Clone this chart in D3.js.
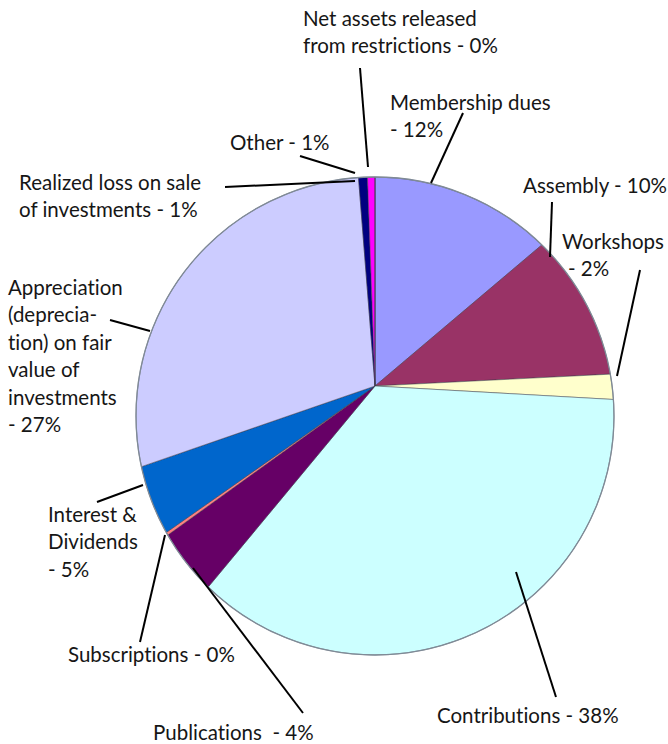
<!DOCTYPE html>
<html>
<head>
<meta charset="utf-8">
<script src="https://cdn.jsdelivr.net/npm/d3@7.8.5/dist/d3.min.js"></script>
<style>
  html, body { margin: 0; padding: 0; background: #fff; }
  svg { display: block; }
  .lbl { font-family: Lato, "Open Sans", sans-serif; font-size: 20.5px; fill: #161616;
         white-space: pre; font-variant-ligatures: none; font-feature-settings: "liga" 0; }
  .leader { stroke: #000; stroke-width: 2px; fill: none; }
</style>
</head>
<body>
<script>
// categories in clockwise order from 12 o'clock
const categories = [
  'Membership dues', 'Assembly', 'Workshops', 'Contributions', 'Publications',
  'Subscriptions', 'Interest & Dividends', 'Appreciation (depreciation) on fair value of investments',
  'Realized loss on sale of investments', 'Other', 'Net assets released from restrictions'
];
const values = [12.3, 9.9, 1.7, 38.4, 4.4, 0.2, 4.7, 27.3, 0.6, 0.5, 0.0];
const colors = ['#9999ff', '#993366', '#ffffcc', '#ccffff', '#660066',
  '#ff8080', '#0066cc', '#ccccff', '#000080', '#ff00ff', '#ffff00'];

// label text lines (as printed on the chart)
const labelLines = [
  ['Membership dues', '- 12%'],
  ['Assembly - 10%'],
  ['Workshops', '- 2%'],
  ['Contributions - 38%'],
  ['Publications  - 4%'],
  ['Subscriptions - 0%'],
  ['Interest &', 'Dividends', '- 5%'],
  ['Appreciation', '(deprecia-', 'tion) on fair', 'value of', 'investments', '- 27%'],
  ['Realized loss on sale', 'of investments - 1%'],
  ['Other - 1%'],
  ['Net assets released', 'from restrictions - 0%']
];

// label layout: text anchor (x, first baseline) and leader line ends
const labelLayout = [
  { x: 390, y: 110, line: [[463, 113], [431, 183]] },
  { x: 523, y: 193, line: [[552, 202], [550, 257]] },
  { x: 562, y: 249, dx: [0, 6], line: [[640, 270], [617, 376]] },
  { x: 437, y: 723, line: [[556, 697], [516, 572]] },
  { x: 153, y: 740, line: [[303, 713], [193, 568]] },
  { x: 68, y: 662, line: [[140, 642], [165, 535]] },
  { x: 48, y: 522, line: [[97, 502], [143, 485]] },
  { x: 8, y: 295, line: [[110, 320], [150, 331]] },
  { x: 19, y: 190, line: [[225, 187], [355, 181]] },
  { x: 230, y: 150, line: [[300, 156], [355, 173]] },
  { x: 303, y: 26, line: [[360, 68], [368, 167]] }
];
const lineHeight = 27.4;

const W = 668, H = 744;
const cx = 375, cy = 416, r = 239;   // rim circle
const apex = [375, 386];             // tilted pie apex

const svg = d3.select('body').append('svg')
  .attr('width', W).attr('height', H);

const pie = d3.pie().sort(null).value(d => d)
  .startAngle(0).endAngle(2 * Math.PI);
const slices = pie(values);

function slicePath(d) {
  const p = d3.path();
  const a0 = d.startAngle - Math.PI / 2, a1 = d.endAngle - Math.PI / 2;
  p.moveTo(apex[0], apex[1]);
  p.lineTo(cx + r * Math.cos(a0), cy + r * Math.sin(a0));
  p.arc(cx, cy, r, a0, a1, false);
  p.closePath();
  return p.toString();
}

const g = svg.append('g');
g.selectAll('path.slice')
  .data(slices)
  .join('path')
  .attr('class', 'slice')
  .attr('d', slicePath)
  .attr('fill', (d, i) => colors[i])
  .attr('stroke', '#3a3a4a')
  .attr('stroke-opacity', 0.6)
  .attr('stroke-width', 0.8)
  .attr('stroke-linejoin', 'round');

// rim outline
g.append('circle')
  .attr('cx', cx).attr('cy', cy).attr('r', r)
  .attr('fill', 'none')
  .attr('stroke', '#7f8a96')
  .attr('stroke-width', 1.3);

// leader lines
svg.selectAll('line.leader')
  .data(labelLayout)
  .join('line')
  .attr('class', 'leader')
  .attr('x1', d => d.line[0][0]).attr('y1', d => d.line[0][1])
  .attr('x2', d => d.line[1][0]).attr('y2', d => d.line[1][1]);

// labels
const lbl = svg.selectAll('text.lbl')
  .data(labelLines)
  .join('text')
  .attr('class', 'lbl');

lbl.each(function(lines, i) {
  const L = labelLayout[i];
  d3.select(this).selectAll('tspan')
    .data(lines)
    .join('tspan')
    .attr('x', (t, j) => L.x + (L.dx ? L.dx[j] : 0))
    .attr('y', (t, j) => L.y + j * lineHeight)
    .text(t => t);
});
</script>
</body>
</html>
